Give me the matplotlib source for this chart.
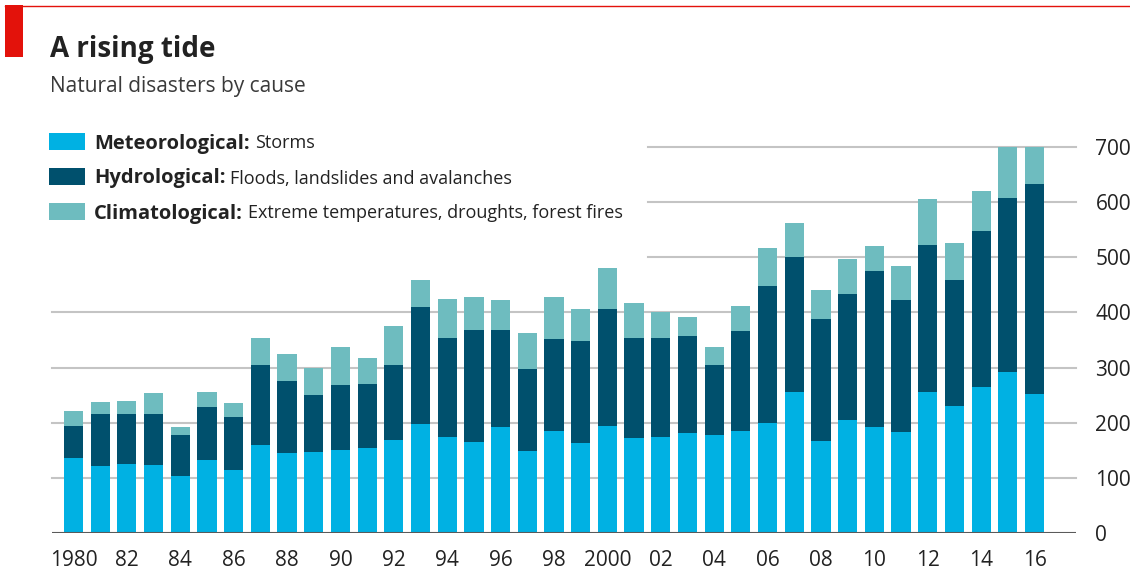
import matplotlib
matplotlib.use("Agg")
import matplotlib.pyplot as plt
from matplotlib.patches import Rectangle
from matplotlib.lines import Line2D

# === DATA ===
years = list(range(1980, 2017))
meteorological = [136, 122, 126, 124, 104, 133, 115, 160, 145, 147,
                  150, 154, 168, 197, 175, 165, 192, 149, 185, 163,
                  194, 173, 175, 181, 177, 185, 200, 255, 166, 205,
                  193, 183, 256, 231, 264, 292, 252]
hydrological = [58, 93, 90, 92, 74, 96, 95, 144, 130, 103,
                118, 117, 136, 212, 179, 203, 176, 148, 167, 185,
                212, 181, 178, 176, 127, 181, 248, 245, 222, 229,
                283, 239, 266, 228, 283, 316, 380]
climatological = [27, 22, 24, 38, 15, 26, 26, 50, 49, 49,
                  70, 47, 71, 50, 70, 60, 54, 66, 76, 59,
                  74, 63, 47, 34, 34, 46, 69, 63, 53, 63,
                  45, 63, 84, 67, 74, 92, 68]
tick_years = list(range(1980, 2017, 2))
tick_labels = ["1980"] + [f"{y % 100:02d}" if y != 2000 else "2000" for y in tick_years[1:]]
y_ticks = [0, 100, 200, 300, 400, 500, 600, 700]

# === STYLE ===
FONT = ["Liberation Sans Narrow", "Open Sans", "DejaVu Sans"]
plt.rcParams["font.family"] = FONT
C_MET = "#00b1e3"
C_HYD = "#00506d"
C_CLI = "#6ebcbf"
C_GRID = "#c4c4c4"
C_TEXT = "#222222"
C_RED = "#e3120b"
W, H = 1130, 572

fig = plt.figure(figsize=(W / 100, H / 100), dpi=100)

# axes placed by pixel coordinates of the reference
ax_left, ax_right, ax_bottom, ax_top = 52, 1076, 533, 147
ax = fig.add_axes([ax_left / W, 1 - ax_bottom / H,
                   (ax_right - ax_left) / W, (ax_bottom - ax_top) / H])

bottom2 = [m + h for m, h in zip(meteorological, hydrological)]
ax.bar(years, meteorological, width=0.72, color=C_MET, zorder=3)
ax.bar(years, hydrological, width=0.72, bottom=meteorological, color=C_HYD, zorder=3)
ax.bar(years, climatological, width=0.72, bottom=bottom2, color=C_CLI, zorder=3)

ax.set_xlim(1979.195, 2017.554)
ax.set_ylim(0, 700)

# gridlines: the upper ones stop short of the legend
upper_start = (648 - ax_left) / (ax_right - ax_left)
for v in y_ticks[1:]:
    xmin = upper_start if v >= 500 else 0
    ax.axhline(v, xmin=xmin, xmax=1, color=C_GRID, lw=1.5, zorder=1, clip_on=False)
ax.axhline(0, color="#5a5a5a", lw=1.5, zorder=4)

for s in ax.spines.values():
    s.set_visible(False)
ax.yaxis.tick_right()
ax.set_yticks(y_ticks)
ax.set_yticklabels([str(v) for v in y_ticks])
ax.tick_params(axis="y", length=0, pad=14, labelsize=15, labelcolor=C_TEXT)
ax.set_xticks(tick_years)
ax.set_xticklabels(tick_labels)
ax.tick_params(axis="x", length=0, pad=12, labelsize=15, labelcolor=C_TEXT)

# header decorations
fig.add_artist(Line2D([5 / W, 1], [1 - 5.5 / H, 1 - 5.5 / H], color=C_RED, lw=1.0))
fig.add_artist(Rectangle((5 / W, 1 - 57 / H), 18 / W, 52 / H, color=C_RED, lw=0))

fig.text(50 / W, 1 - 57 / H, "A rising tide", fontsize=20, fontweight="bold",
         color=C_TEXT, va="baseline")
fig.text(50 / W, 1 - 92 / H, "Natural disasters by cause", fontsize=15,
         color="#3a3a3a", va="baseline")

# legend
legend_items = [
    (C_MET, "Meteorological:", "Storms"),
    (C_HYD, "Hydrological:", "Floods, landslides and avalanches"),
    (C_CLI, "Climatological:", "Extreme temperatures, droughts, forest fires"),
]
renderer = fig.canvas.get_renderer()
for i, (col, bold, rest) in enumerate(legend_items):
    yc = 141.5 + 35 * i
    fig.add_artist(Rectangle((49 / W, 1 - (yc + 8.5) / H), 36 / W, 17 / H, color=col, lw=0))
    t = fig.text(94 / W, 1 - (yc + 7) / H, bold, fontsize=14.5, fontweight="bold",
                 color=C_TEXT, va="baseline")
    bb = t.get_window_extent(renderer)
    fig.text(bb.x1 / W + 5 / W, 1 - (yc + 7) / H, rest, fontsize=13,
             color=C_TEXT, va="baseline")

fig.savefig("out.png", dpi=100)
